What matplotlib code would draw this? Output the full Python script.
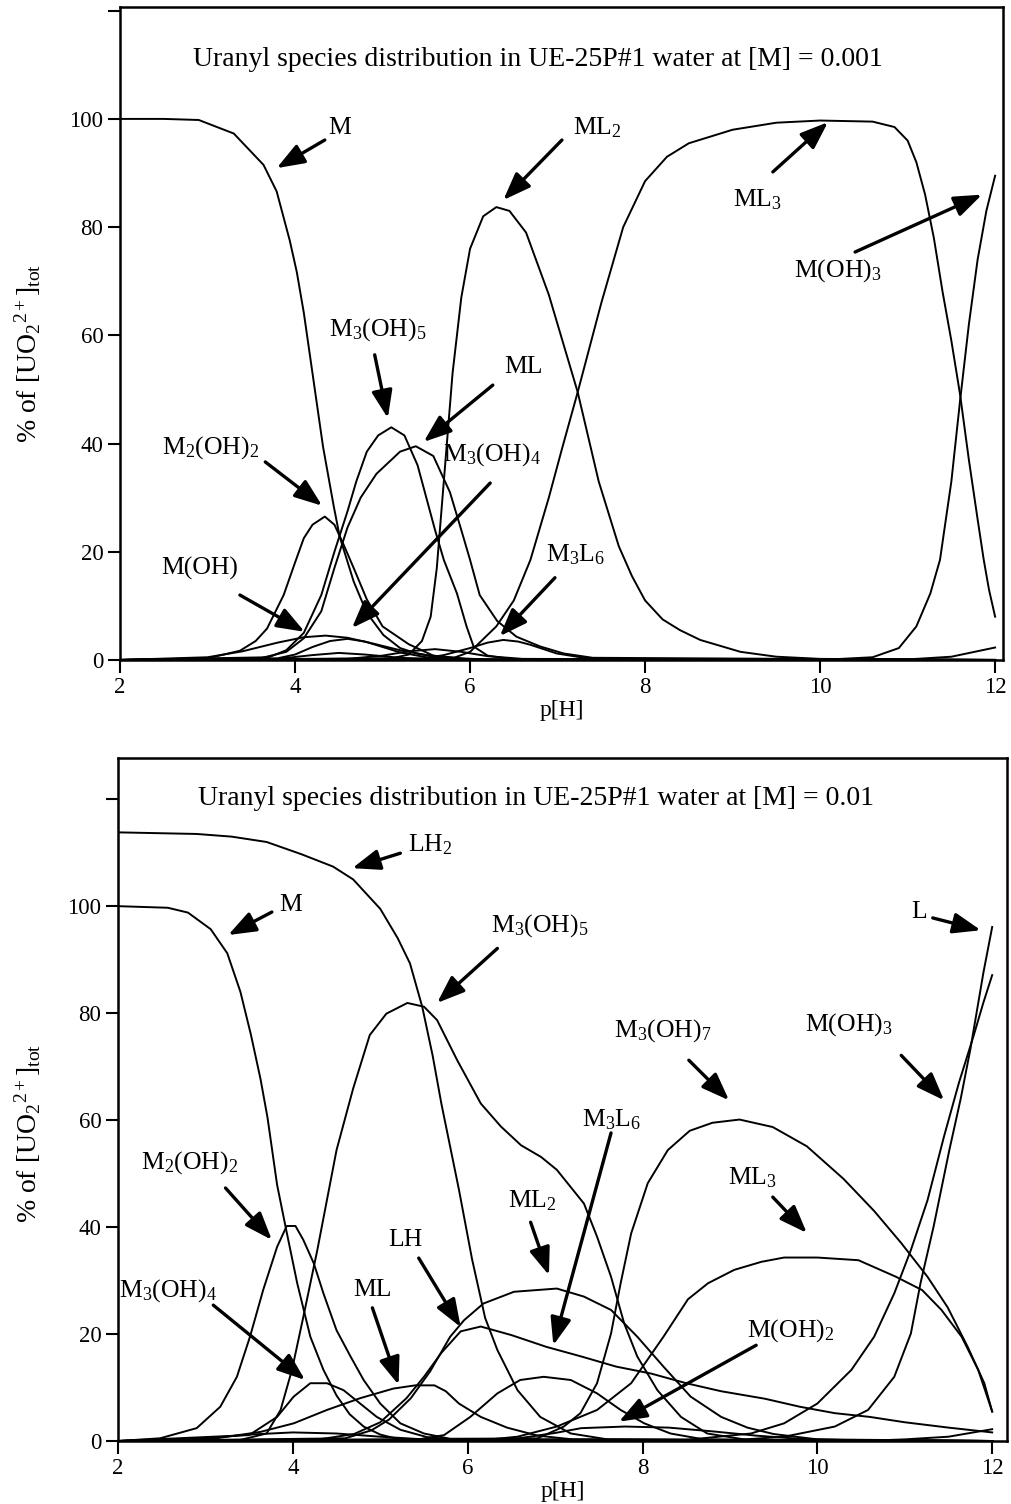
"""Uranyl species distribution in UE-25P#1 water, two concentrations."""

import matplotlib
matplotlib.use("Agg")
import matplotlib.pyplot as plt

plt.rcParams.update({
    "font.family": "serif",
    "font.serif": ["Liberation Serif", "DejaVu Serif"],
    "mathtext.fontset": "custom",
    "mathtext.rm": "Liberation Serif",
    "mathtext.it": "Liberation Serif:italic",
    "mathtext.bf": "Liberation Serif:bold",
    "font.size": 16,
})

# ---------------- [M] = 0.001 (top panel) ----------------
top_M_ph = [2.0, 2.5, 2.9, 3.3, 3.64, 3.79, 3.94, 4.02, 4.1, 4.21, 4.32, 4.44, 4.51, 4.67, 4.82, 5.01, 5.2, 5.39, 5.7, 6.0, 12.0]
top_M = [100, 100, 99.8, 97.3, 91.5, 86.6, 77.5, 71.7, 64.2, 51.8, 39.4, 28.6, 22.8, 14.5, 8.7, 4.6, 2.2, 1.2, 0.3, 0, 0]

top_M2OH2_ph = [2.0, 3.0, 3.37, 3.55, 3.68, 3.87, 4.0, 4.1, 4.2, 4.34, 4.45, 4.55, 4.67, 4.82, 5.0, 5.3, 5.58, 6.0, 12.0]
top_M2OH2 = [0, 0.3, 1.7, 3.5, 5.8, 12, 18, 22.5, 25, 26.5, 25, 21.5, 17, 11.2, 6.2, 2.9, 0.8, 0.1, 0]

top_M3OH5_ph = [2.0, 3.7, 3.9, 4.1, 4.3, 4.45, 4.6, 4.7, 4.82, 4.95, 5.1, 5.25, 5.4, 5.5, 5.6, 5.7, 5.85, 5.96, 6.04, 6.2, 6.5, 12.0]
top_M3OH5 = [0, 0.5, 1.8, 5, 12, 20, 27.5, 33, 38.5, 41.5, 43, 41.5, 36, 30, 24, 18.5, 12.3, 6.2, 2.5, 0.8, 0.1, 0]

top_ML_ph = [2.0, 3.6, 3.9, 4.1, 4.3, 4.45, 4.6, 4.75, 4.93, 5.2, 5.38, 5.58, 5.77, 5.9, 6.0, 6.11, 6.31, 6.53, 6.8, 7.07, 7.4, 12.0]
top_ML = [0, 0.3, 1.5, 4, 9, 17, 24.5, 30, 34.4, 38.5, 39.5, 37.7, 31, 24, 18.5, 12, 7.2, 4.3, 2.5, 1.2, 0.4, 0]

top_ML2_ph = [2.0, 5.1, 5.3, 5.45, 5.55, 5.62, 5.7, 5.8, 5.9, 6.0, 6.15, 6.3, 6.45, 6.64, 6.9, 7.23, 7.47, 7.7, 7.85, 8.0, 8.2, 8.4, 8.63, 9.09, 9.5, 10.0, 12.0]
top_ML2 = [0, 0.3, 1, 3.5, 8, 17, 33, 53, 67, 76, 82, 83.7, 83, 79, 67.5, 49.5, 33, 21, 15.5, 11, 7.5, 5.5, 3.7, 1.5, 0.6, 0.2, 0]

top_ML3_ph = [2.0, 5.8, 6.0, 6.3, 6.5, 6.69, 6.9, 7.05, 7.23, 7.5, 7.75, 8.0, 8.25, 8.5, 9.0, 9.5, 10.0, 10.6, 10.85, 11.0, 11.1, 11.2, 11.3, 11.4, 11.5, 11.6, 11.7, 11.8, 11.87, 11.93, 12.0]
top_ML3 = [0, 0.3, 1.5, 6.2, 11, 18.5, 30, 39, 49.5, 66, 80, 88.5, 93, 95.5, 98, 99.3, 99.7, 99.5, 98.5, 96, 92, 86, 78, 68, 59, 49, 37, 26, 18.5, 13, 8]

top_MOH3_ph = [2.0, 10.0, 10.6, 10.9, 11.1, 11.26, 11.37, 11.5, 11.6, 11.7, 11.8, 11.9, 12.0]
top_MOH3 = [0, 0, 0.5, 2.2, 6.2, 12.3, 18.5, 33, 48, 62, 74, 83, 89.5]

top_MOH_ph = [2.0, 3.0, 3.4, 3.8, 4.1, 4.35, 4.6, 4.9, 5.2, 5.5, 5.9, 6.3, 12.0]
top_MOH = [0, 0.5, 1.6, 3.2, 4.2, 4.5, 4.1, 3.0, 1.8, 0.9, 0.3, 0, 0]

top_M3OH4_ph = [2.0, 3.8, 4.0, 4.2, 4.4, 4.6, 4.8, 5.0, 5.2, 5.5, 5.8, 12.0]
top_M3OH4 = [0, 0.3, 1.0, 2.4, 3.5, 3.9, 3.4, 2.4, 1.4, 0.5, 0.1, 0]

top_M3L6_ph = [2.0, 5.4, 5.7, 6.0, 6.2, 6.38, 6.55, 6.69, 6.99, 7.26, 7.6, 12.0]
top_M3L6 = [0, 0.1, 0.9, 2.2, 3.2, 3.7, 3.4, 2.8, 1.2, 0.5, 0.1, 0]

# small unlabelled species near the baseline
top_minor1_ph = [2.0, 4.6, 5.0, 5.3, 5.6, 5.9, 6.2, 6.6, 12.0]
top_minor1 = [0, 0.2, 0.8, 1.6, 2.0, 1.5, 0.7, 0.2, 0]
top_minor2_ph = [2.0, 3.8, 4.2, 4.5, 4.8, 5.2, 5.6, 12.0]
top_minor2 = [0, 0.2, 0.9, 1.3, 1.0, 0.4, 0.1, 0]
top_minor3_ph = [2.0, 11.0, 11.5, 12.0]
top_minor3 = [0, 0.1, 0.6, 2.3]

# ---------------- [M] = 0.01 (bottom panel) ----------------
bot_LH2_ph = [2.0, 2.9, 3.3, 3.7, 4.1, 4.46, 4.69, 5.0, 5.2, 5.34, 5.48, 5.6, 5.7, 5.8, 5.9, 6.05, 6.2, 6.34, 6.57, 6.83, 7.18, 7.6, 12.0]
bot_LH2 = [113.8, 113.5, 113, 112, 109.7, 107.4, 105, 99.5, 94, 89.3, 81.2, 72, 63, 55, 47, 34, 23, 17, 9.5, 4.5, 1.4, 0.3, 0]

bot_M_ph = [2.0, 2.57, 2.8, 3.06, 3.25, 3.4, 3.52, 3.63, 3.71, 3.82, 3.93, 4.05, 4.2, 4.35, 4.5, 4.65, 4.81, 5.0, 5.22, 5.6, 12.0]
bot_M = [100, 99.7, 98.8, 95.7, 91.2, 84, 76, 67.7, 60.5, 47.9, 39, 29.5, 19.5, 13.3, 8.5, 5, 2.7, 1.2, 0.3, 0, 0]

bot_M3OH5_ph = [2.0, 3.4, 3.7, 3.86, 3.99, 4.12, 4.28, 4.5, 4.69, 4.88, 5.07, 5.31, 5.5, 5.65, 5.88, 6.15, 6.38, 6.61, 6.84, 7.02, 7.33, 7.48, 7.64, 7.79, 7.94, 8.17, 8.44, 8.74, 9.2, 12.0]
bot_M3OH5 = [0, 0.2, 1.4, 5.8, 13.3, 23.2, 35.7, 54.4, 65.9, 75.9, 79.9, 81.9, 81.2, 78.7, 71.2, 63.1, 58.8, 55.3, 53.1, 50.7, 44.4, 38.2, 30.7, 22, 15.8, 9.5, 4.5, 1.4, 0.2, 0]

bot_M2OH2_ph = [2.0, 2.48, 2.9, 3.17, 3.36, 3.51, 3.66, 3.82, 3.93, 4.03, 4.12, 4.24, 4.35, 4.5, 4.66, 4.81, 5.0, 5.23, 5.5, 5.8, 12.0]
bot_M2OH2 = [0, 0.5, 2.4, 6.4, 12, 19.5, 28.2, 36.3, 40.2, 40.2, 37.6, 33.2, 27.6, 20.7, 15.8, 11.4, 7.0, 3.3, 1.4, 0.4, 0]

bot_M3OH4_ph = [2.0, 3.5, 3.82, 4.01, 4.2, 4.39, 4.58, 4.77, 4.96, 5.23, 5.54, 6.0, 12.0]
bot_M3OH4 = [0, 1.1, 4.5, 8.3, 10.8, 10.8, 9.5, 7.0, 4.5, 2.1, 0.7, 0.1, 0]

bot_ML_ph = [2.0, 3.0, 3.63, 4.01, 4.39, 4.77, 5.15, 5.4, 5.62, 5.75, 5.9, 6.15, 6.45, 6.8, 7.2, 12.0]
bot_ML = [0, 0.2, 1.7, 3.3, 5.8, 8.0, 9.8, 10.4, 10.4, 9.3, 7.0, 4.5, 2.5, 1.0, 0.3, 0]

bot_LH_ph = [2.0, 4.3, 4.7, 5.0, 5.3, 5.5, 5.7, 5.92, 6.15, 6.5, 6.9, 7.3, 7.7, 8.1, 8.5, 8.9, 9.4, 9.8, 10.2, 10.6, 11.0, 11.5, 12.0]
bot_LH = [0, 0.3, 1.3, 3.5, 8, 12, 16.5, 20.5, 21.4, 19.8, 17.6, 15.8, 13.9, 12.6, 10.8, 9.3, 7.9, 6.4, 5.2, 4.5, 3.5, 2.5, 1.6]

bot_ML2_ph = [2.0, 4.6, 4.9, 5.1, 5.35, 5.57, 5.8, 5.96, 6.18, 6.53, 7.02, 7.33, 7.64, 7.94, 8.24, 8.55, 8.9, 9.2, 9.5, 10.0, 12.0]
bot_ML2 = [0, 0.5, 2, 4, 8, 13, 19.5, 22.6, 25.7, 27.9, 28.5, 27, 24.5, 19.5, 13.9, 8.3, 4.5, 2.5, 1.3, 0.3, 0]

bot_M3L6_ph = [2.0, 5.4, 5.73, 6.03, 6.34, 6.6, 6.87, 7.18, 7.48, 7.75, 8.02, 8.32, 8.7, 12.0]
bot_M3L6 = [0, 0.2, 1.1, 4.5, 8.9, 11.4, 12.0, 11.4, 8.9, 5.8, 3.3, 1.4, 0.3, 0]

bot_M3OH7_ph = [2.0, 6.8, 7.1, 7.29, 7.48, 7.64, 7.75, 7.87, 8.06, 8.29, 8.54, 8.8, 9.11, 9.49, 9.88, 10.3, 10.65, 10.96, 11.26, 11.49, 11.72, 11.91, 12.0]
bot_M3OH7 = [0, 0.5, 2.7, 5.2, 10.8, 20.1, 29.5, 38.8, 48.2, 54.4, 58, 59.5, 60.1, 58.7, 55.1, 49, 43, 37, 30.7, 25, 17.6, 10.8, 5.5]

bot_ML3_ph = [2.0, 6.2, 6.57, 7.02, 7.48, 7.87, 8.24, 8.52, 8.75, 9.05, 9.36, 9.62, 10.0, 10.47, 10.9, 11.2, 11.42, 11.65, 11.84, 12.0]
bot_ML3 = [0, 0.2, 0.8, 2.7, 5.8, 10.8, 19.5, 26.5, 29.5, 32, 33.5, 34.3, 34.3, 33.8, 30.7, 28.2, 24.5, 19.5, 13.3, 5.5]

bot_MOH3_ph = [2.0, 8.5, 9.24, 9.62, 10.0, 10.39, 10.65, 10.88, 11.07, 11.26, 11.45, 11.62, 11.79, 11.9, 12.0]
bot_MOH3 = [0, 0.2, 1.4, 3.3, 7.0, 13.3, 19.5, 27.6, 35.7, 45.0, 57, 67, 75.9, 82, 87.1]

bot_L_ph = [2.0, 9.0, 9.62, 10.2, 10.58, 10.88, 11.07, 11.18, 11.33, 11.51, 11.64, 11.75, 11.9, 12.0]
bot_L = [0, 0.1, 0.8, 2.7, 5.8, 12.0, 20.1, 29.5, 40.1, 54.4, 64, 73.2, 87.6, 96.1]

bot_MOH2_ph = [2.0, 6.5, 7.0, 7.3, 7.8, 8.3, 8.8, 9.3, 9.8, 10.5, 12.0]
bot_MOH2 = [0, 0.3, 1.5, 2.4, 2.7, 2.5, 1.8, 1.0, 0.4, 0.1, 0]

bot_minor1_ph = [2.0, 2.5, 3.0, 3.5, 4.0, 4.5, 5.0, 5.5, 6.0, 12.0]
bot_minor1 = [0, 0.1, 0.5, 1.2, 1.6, 1.4, 0.8, 0.3, 0.1, 0]
bot_minor2_ph = [2.0, 10.5, 11.0, 11.5, 12.0]
bot_minor2 = [0, 0, 0.3, 0.8, 2.2]

TOP_SERIES = [
    (top_M_ph, top_M), (top_M2OH2_ph, top_M2OH2), (top_M3OH5_ph, top_M3OH5),
    (top_ML_ph, top_ML), (top_ML2_ph, top_ML2), (top_ML3_ph, top_ML3),
    (top_MOH3_ph, top_MOH3), (top_MOH_ph, top_MOH), (top_M3OH4_ph, top_M3OH4),
    (top_M3L6_ph, top_M3L6), (top_minor1_ph, top_minor1), (top_minor2_ph, top_minor2),
    (top_minor3_ph, top_minor3),
]
BOT_SERIES = [
    (bot_LH2_ph, bot_LH2), (bot_M_ph, bot_M), (bot_M3OH5_ph, bot_M3OH5),
    (bot_M2OH2_ph, bot_M2OH2), (bot_M3OH4_ph, bot_M3OH4), (bot_ML_ph, bot_ML),
    (bot_LH_ph, bot_LH), (bot_ML2_ph, bot_ML2), (bot_M3L6_ph, bot_M3L6),
    (bot_M3OH7_ph, bot_M3OH7), (bot_ML3_ph, bot_ML3), (bot_MOH3_ph, bot_MOH3),
    (bot_L_ph, bot_L), (bot_MOH2_ph, bot_MOH2), (bot_minor1_ph, bot_minor1),
    (bot_minor2_ph, bot_minor2),
]

# label text, text position, arrow tail, arrow tip (data coords)
TOP_LABELS = [
    ("M", (4.51, 98.3), (4.34, 96.1), (3.79, 90.9)),
    ("ML$_2$", (7.46, 98.3), (7.05, 96.1), (6.38, 85.0)),
    ("ML$_3$", (9.29, 85.0), (9.46, 90.2), (10.09, 99.4)),
    ("M(OH)$_3$", (10.2, 72.0), (10.4, 75.4), (11.85, 86.0)),
    ("M$_3$(OH)$_5$", (4.94, 61.0), (4.91, 56.4), (5.06, 44.7)),
    ("ML", (6.61, 54.2), (6.26, 50.8), (5.47, 40.3)),
    ("M$_2$(OH)$_2$", (3.03, 39.2), (3.66, 36.6), (4.31, 28.5)),
    ("M$_3$(OH)$_4$", (6.25, 37.9), (6.23, 32.7), (4.65, 5.9)),
    ("M(OH)", (2.91, 17.0), (3.37, 12.0), (4.11, 5.2)),
    ("M$_3$L$_6$", (7.2, 19.4), (6.97, 15.2), (6.34, 4.4)),
]
BOT_LABELS = [
    ("LH$_2$", (5.57, 111.4), (5.23, 109.9), (4.68, 107.1)),
    ("M", (3.97, 100.2), (3.76, 98.9), (3.26, 94.6)),
    ("M$_3$(OH)$_5$", (6.83, 96.4), (6.34, 92.1), (5.65, 81.9)),
    ("L", (11.16, 98.9), (11.32, 97.8), (11.87, 95.5)),
    ("M(OH)$_3$", (10.36, 77.8), (10.96, 72.1), (11.45, 63.7)),
    ("M$_3$(OH)$_7$", (8.23, 76.8), (8.53, 71.2), (8.99, 63.7)),
    ("M$_3$L$_6$", (7.65, 60.0), (7.64, 57.6), (6.98, 17.9)),
    ("ML$_3$", (9.26, 49.3), (9.49, 45.6), (9.88, 38.9)),
    ("M$_2$(OH)$_2$", (2.82, 52.0), (3.23, 47.3), (3.76, 37.6)),
    ("ML$_2$", (6.74, 45.0), (6.72, 40.9), (6.93, 31.0)),
    ("LH", (5.29, 37.6), (5.44, 34.2), (5.92, 21.3)),
    ("ML", (4.91, 28.2), (4.91, 24.9), (5.21, 10.5)),
    ("M$_3$(OH)$_4$", (2.57, 28.2), (3.09, 25.4), (4.14, 11.4)),
    ("M(OH)$_2$", (9.7, 20.7), (9.3, 17.9), (7.73, 3.6)),
]

YLABEL = "% of [UO$_2$$^{2+}$]$_\\mathrm{tot}$"


def draw_panel(ax, series, labels, title, title_pos, xmax, ymax, ylabel_xy):
    for ph, val in series:
        ax.plot(ph, val, color="black", lw=1.4)
    for text, tpos, tail, tip in labels:
        ax.text(tpos[0], tpos[1], text, ha="center", va="center", fontsize=18.5)
        ax.annotate("", xy=tip, xytext=tail,
                    arrowprops=dict(arrowstyle="-|>,head_length=0.8,head_width=0.3",
                                    lw=2.4, color="black", mutation_scale=21,
                                    shrinkA=0, shrinkB=0))
    ax.text(title_pos[0], title_pos[1], title, ha="center", va="center", fontsize=20)
    ax.set_xlim(2, xmax)
    ax.set_ylim(0, ymax)
    ax.set_xticks([2, 4, 6, 8, 10, 12])
    ax.set_yticks([0, 20, 40, 60, 80, 100, 120])
    ax.set_yticklabels(["0", "20", "40", "60", "80", "100", ""])
    ax.tick_params(direction="out", length=9, width=1.5, labelsize=16.5, pad=3)
    for s in ax.spines.values():
        s.set_linewidth(1.8)
    ax.set_xlabel("p[H]", fontsize=17, labelpad=2)
    ax.set_ylabel(YLABEL, fontsize=20)
    ax.yaxis.set_label_coords(*ylabel_xy)


fig = plt.figure(figsize=(10.12, 15.04), dpi=100)
ax_top = fig.add_axes([0.1186, 0.5612, 0.8725, 0.4342])
ax_bot = fig.add_axes([0.1166, 0.0419, 0.8785, 0.4541])

draw_panel(ax_top, TOP_SERIES, TOP_LABELS,
           "Uranyl species distribution in UE-25P#1 water at [M] = 0.001",
           (6.77, 111), 12.09, 120.7, (-0.087, 0.47))
draw_panel(ax_bot, BOT_SERIES, BOT_LABELS,
           "Uranyl species distribution in UE-25P#1 water at [M] = 0.01",
           (6.78, 120.2), 12.17, 127.7, (-0.084, 0.45))

fig.savefig("out.png", dpi=100)
